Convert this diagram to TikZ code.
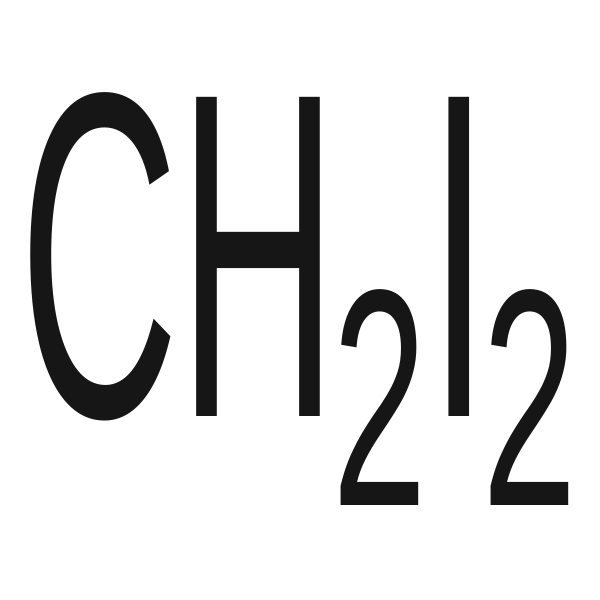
\documentclass[tikz,border=0pt]{standalone}
\usepackage{fontspec}
\setmainfont{Liberation Sans}
\usepackage{tikz}
\usetikzlibrary{calc}
\tikzset{formula/.style={inner sep=0pt, outer sep=0pt, anchor=base west, xscale=0.477, transform shape, font=\fontsize{132}{132}\selectfont}}
\tikzset{index/.style={formula, xscale=1.155, font=\fontsize{88}{88}\selectfont}}
\begin{document}
\begin{tikzpicture}

	\definecolor{tinte}{RGB}{22,22,22}
	\useasboundingbox (0,0) rectangle (6,6);
	
\draw (0.19,1.83) node[formula, text=tinte] (CH) {CH} ;

\draw (3.32,0.95) node[index, text=tinte] (n1) {2} ;

\draw (4.28,1.83) node[formula, text=tinte] (I) {I} ;

\draw (4.82,0.95) node[index, text=tinte] (n2) {2} ;

\end{tikzpicture}
\end{document}
